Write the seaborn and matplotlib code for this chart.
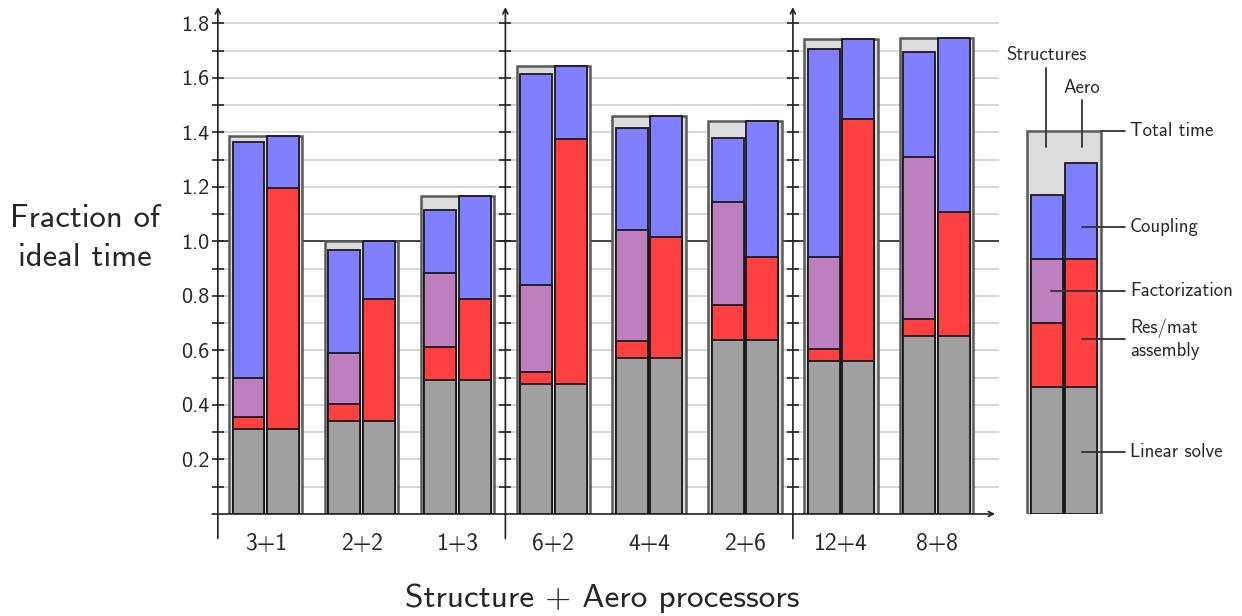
import numpy as np
import pandas as pd
import matplotlib
matplotlib.use('Agg')
import matplotlib.pyplot as plt
import seaborn as sns

# data (fraction of ideal time)
cases = ['3+1', '2+2', '1+3', '6+2', '4+4', '2+6', '12+4', '8+8']
total_time = [1.387, 1.000, 1.167, 1.645, 1.462, 1.441, 1.742, 1.748]

struct_linear = [0.313, 0.340, 0.491, 0.478, 0.574, 0.639, 0.563, 0.652]
struct_resmat = [0.042, 0.064, 0.123, 0.042, 0.062, 0.128, 0.041, 0.065]
struct_factor = [0.144, 0.188, 0.269, 0.322, 0.406, 0.378, 0.340, 0.594]
struct_coupling = [0.867, 0.377, 0.234, 0.772, 0.373, 0.235, 0.762, 0.386]

aero_linear = [0.313, 0.340, 0.491, 0.478, 0.574, 0.639, 0.563, 0.652]
aero_resmat = [0.882, 0.450, 0.299, 0.899, 0.443, 0.304, 0.887, 0.456]
aero_factor = [0, 0, 0, 0, 0, 0, 0, 0]
aero_coupling = [0.192, 0.210, 0.377, 0.268, 0.445, 0.498, 0.292, 0.640]

# the example bar on the right (legend)
legend_total = [1.405]
legend_struct = [0.466, 0.236, 0.233, 0.236]
legend_aero = [0.466, 0.469, 0.0, 0.352]

components = ['Linear solve', 'Res/mat assembly', 'Factorization', 'Coupling']
colors = {'Linear solve': '#a0a0a0', 'Res/mat assembly': '#ff4040',
          'Factorization': '#bf80bf', 'Coupling': '#8080ff'}

sns.set_style('white')
plt.rcParams['font.family'] = ['cmss10', 'DejaVu Sans']
plt.rcParams['axes.formatter.use_mathtext'] = True


def make_long(case_list, struct_cols, aero_cols):
    rows = []
    for solver, cols in [('Structures', struct_cols), ('Aero', aero_cols)]:
        for i, c in enumerate(case_list):
            top = 0
            for comp, vals in zip(components, cols):
                top += vals[i]
                rows.append((c, solver, comp, vals[i], top))
    return pd.DataFrame(rows, columns=['case', 'solver', 'component', 'value', 'top'])


def draw_stacks(ax, long_df, tot_df, order):
    sns.barplot(data=tot_df, x='case', y='total', order=order, width=0.766,
                color='#dddddd', saturation=1, edgecolor='#5a5a5a', linewidth=1.8,
                errorbar=None, ax=ax, zorder=2)
    # draw from top layer down so lower layers cover upper ones
    for comp in reversed(components):
        sub = long_df[(long_df.component == comp) & (long_df.value > 0)]
        sns.barplot(data=sub, x='case', y='top', order=order, hue='solver',
                    hue_order=['Structures', 'Aero'],
                    palette={'Structures': colors[comp], 'Aero': colors[comp]},
                    dodge=True, width=0.72, gap=0.075, saturation=1,
                    edgecolor='#1a1a1a', linewidth=1.3, errorbar=None,
                    legend=False, ax=ax, zorder=3)


main_df = make_long(cases,
                    [struct_linear, struct_resmat, struct_factor, struct_coupling],
                    [aero_linear, aero_resmat, aero_factor, aero_coupling])
main_tot = pd.DataFrame({'case': cases, 'total': total_time})

fig = plt.figure(figsize=(12.42, 6.16), dpi=100)
ax = fig.add_axes([0.1677, 0.1656, 0.6366, 0.8273])
draw_stacks(ax, main_df, main_tot, cases)

ax.set_xlim(-0.6, 7.65)
ax.set_ylim(0, 1.87)
ax.set_xlabel('')
ax.set_ylabel('')
for s in ax.spines.values():
    s.set_visible(False)
ax.spines['left'].set_position(('data', -0.5))

grid_y = np.round(np.arange(0.1, 1.85, 0.1), 1)
ax.hlines([g for g in grid_y if g != 1.0], -0.5, 7.65, color='#cccccc', lw=1.1, zorder=0)
ax.hlines([1.0], -0.5, 7.65, color='#111111', lw=1.1, zorder=0.5)

ytick_vals = np.round(np.arange(0.2, 1.85, 0.2), 1)
ax.set_yticks(ytick_vals)
ax.set_yticklabels([f'{v:.1f}' for v in ytick_vals])
ax.tick_params(axis='y', length=0, pad=6, labelsize=16)
ax.tick_params(axis='x', length=0, pad=14, labelsize=17)

for xa in [-0.5, 2.5, 5.5]:
    ax.annotate('', xy=(xa, 1.86), xytext=(xa, -0.09),
                arrowprops=dict(arrowstyle='->', color='#222222', lw=1.2,
                                shrinkA=0, shrinkB=0, mutation_scale=9),
                annotation_clip=False, zorder=4)
    ax.plot([xa] * len(grid_y), grid_y, ls='none', marker='_', ms=9, mew=1.2,
            color='#222222', zorder=4, clip_on=False)
ax.annotate('', xy=(7.61, 0), xytext=(-0.56, 0),
            arrowprops=dict(arrowstyle='->', color='#222222', lw=1.2,
                            shrinkA=0, shrinkB=0, mutation_scale=9),
            annotation_clip=False, zorder=4)

# legend panel
leg_df = make_long([''], [[v] for v in legend_struct], [[v] for v in legend_aero])
leg_tot = pd.DataFrame({'case': [''], 'total': legend_total})
ax2 = fig.add_axes([0.8104, 0.1656, 0.0926, 0.8273])
draw_stacks(ax2, leg_df, leg_tot, [''])
ax2.set_xlim(-0.6, 0.6)
ax2.set_ylim(0, 1.87)
ax2.axis('off')

line_kw = dict(color='#333333', lw=1.3, clip_on=False, zorder=6)
txt_kw = dict(fontsize=13.5, zorder=6)
ax2.plot([-0.188, -0.188], [1.347, 1.637], **line_kw)
ax2.text(-0.188, 1.684, 'Structures', ha='center', va='center', **txt_kw)
ax2.plot([0.188, 0.188], [1.347, 1.519], **line_kw)
ax2.text(0.188, 1.563, 'Aero', ha='center', va='center', **txt_kw)

labels = [('Total time', 0.383, 1.405),
          ('Coupling', 0.188, 1.053),
          ('Factorization', -0.136, 0.818),
          ('Res/mat\nassembly', 0.188, 0.642),
          ('Linear solve', 0.188, 0.228)]
for text, x0, yv in labels:
    ax2.plot([x0, 0.636], [yv, yv], **line_kw)
    ax2.text(0.689, yv, text, ha='left', va='center', linespacing=1.3, **txt_kw)

fig.text(85 / 1242, 1 - 238 / 616, 'Fraction of\nideal time', ha='center', va='center',
         fontsize=23.5, linespacing=1.45)
fig.text(602 / 1242, 1 - 598 / 616, 'Structure + Aero processors', ha='center',
         va='center', fontsize=24)

fig.savefig('out.png', dpi=100)
